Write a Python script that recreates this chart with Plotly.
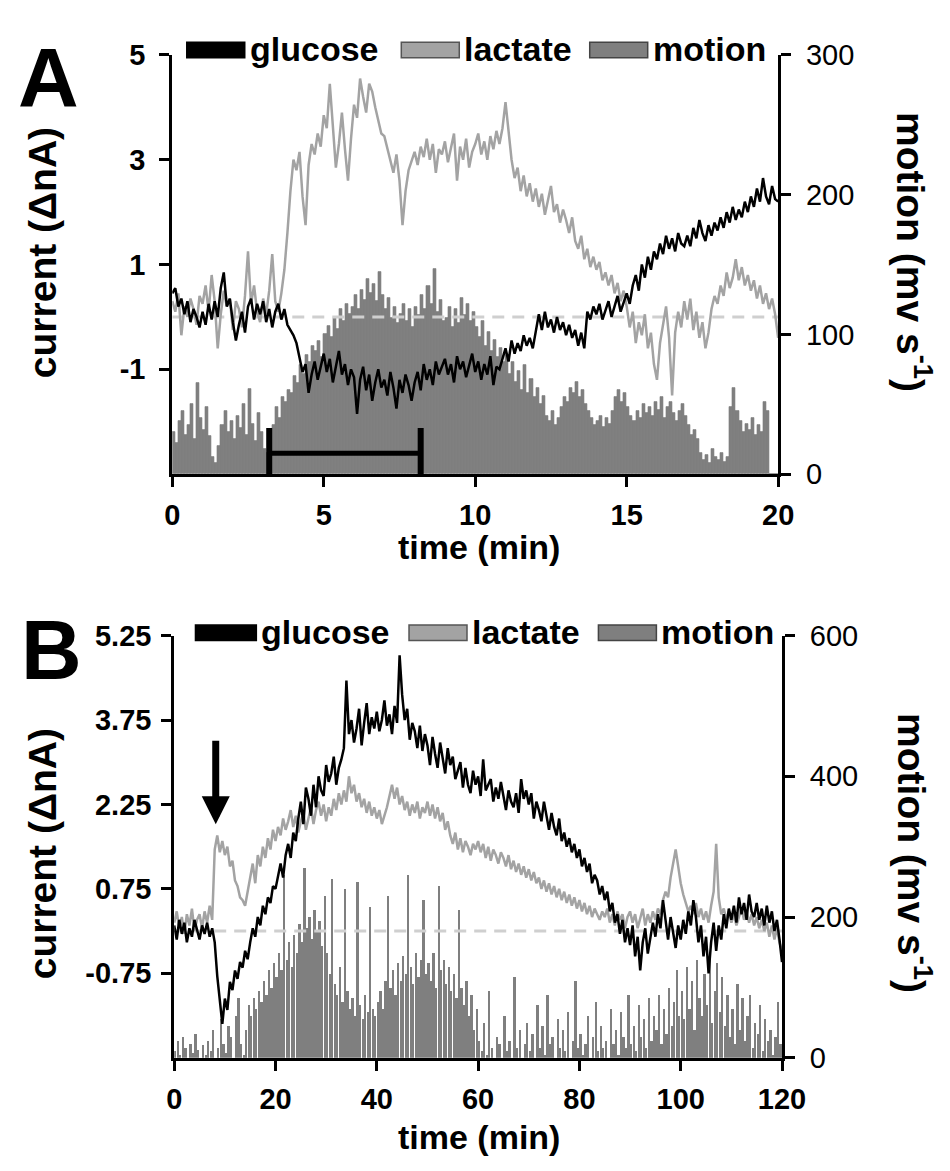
import numpy as np
import plotly.graph_objects as go

W, H = 950, 1171
FONT = "Liberation Sans, Arial, sans-serif"
BLACK = "#000000"
LACTATE_C = "#a3a3a3"
MOTION_C = "#7f7f7f"
BASE_C = "#cfcfcf"

# ---------------- Panel A: 20 min recording, one sample every 0.1 min ----------------
STEP_A = 0.1
glucose_a = [
    0.45, 0.55, 0.2, 0.35, 0.05, 0.3, -0.1, 0.15, 0.0, -0.2,
    0.1, -0.15, 0.25, -0.05, 0.3, 0.0, 0.55, 0.85, 0.2, 0.35,
    -0.1, -0.45, -0.15, 0.1, -0.3, 0.2, 0.35, -0.05, 0.25, 0.05,
    0.3, -0.1, 0.15, -0.2, 0.1, 0.25, -0.05, 0.15, -0.15, -0.25,
    -0.35, -0.5, -0.75, -1.05, -0.9, -1.45, -1.1, -0.85, -1.2, -0.95,
    -0.7, -1.05, -0.8, -1.25, -0.95, -0.65, -1.1, -0.9, -1.3, -1.0,
    -1.15, -1.85, -1.2, -0.95, -1.4, -1.1, -1.6, -1.25, -1.0, -1.35,
    -1.2, -1.5, -1.05, -1.35, -1.75, -1.2, -1.45, -1.1, -1.3, -1.6,
    -1.25, -1.05, -1.4, -0.9, -1.2, -1.0, -1.3, -0.85, -1.1, -0.95,
    -0.8, -1.1, -0.9, -1.25, -0.75, -1.0, -0.85, -1.15, -0.95, -0.7,
    -1.05, -0.85, -1.2, -0.9, -1.1, -0.75, -1.3, -0.95, -1.0, -0.8,
    -0.6, -0.85, -0.45, -0.7, -0.5, -0.65, -0.35, -0.55, -0.4, -0.6,
    -0.3, 0.05, -0.25, 0.1, -0.2, -0.05, -0.3, 0.0, -0.25, -0.1,
    -0.35, -0.15, -0.4, -0.25, -0.55, -0.3, -0.6, 0.1, -0.05, 0.2,
    0.05, 0.25, -0.05, 0.15, 0.3, 0.0, 0.2, 0.4, 0.1, 0.3,
    0.45, 0.25, 0.6, 0.8, 0.5, 1.0, 0.75, 1.15, 0.9, 1.25,
    1.1, 1.4, 1.2, 1.55, 1.3, 1.5, 1.25, 1.6, 1.4, 1.35,
    1.55, 1.35, 1.7, 1.5, 1.85, 1.6, 1.45, 1.75, 1.55, 1.8,
    1.65, 1.9, 1.7, 2.0, 1.8, 2.1, 1.85, 2.05, 1.9, 2.2,
    2.0, 2.3, 2.1, 2.45, 2.2, 2.65, 2.3, 2.15, 2.5, 2.25,
    2.2,
]
lactate_a = [
    0.3, 0.1, 0.45, -0.35, 0.2, 0.0, 0.35, 0.15, -0.15, 0.4,
    0.25, 0.6, 0.1, 0.8, 0.3, -0.6, 0.05, 0.5, 0.2, 0.35,
    -0.25, 0.3, 0.15, -0.2, 0.4, 1.25, 0.25, 0.6, 0.1, -0.1,
    0.35, 0.05, 0.5, 1.2, 0.3, 0.1, 0.45, 0.9, 1.6, 2.4,
    3.0, 2.8, 3.15, 2.3, 1.75, 2.9, 3.3, 3.1, 3.5, 3.25,
    3.85, 3.6, 4.45, 3.7, 2.85, 3.3, 3.9, 3.2, 2.6, 3.4,
    4.05, 3.8, 4.55, 4.2, 3.9, 4.45, 4.3, 4.0, 3.75, 3.5,
    3.45, 3.2, 3.0, 2.75, 3.1, 2.6, 1.75, 2.4, 2.8, 3.0,
    3.15, 2.9, 3.25, 3.05, 3.4, 3.0, 3.3, 2.75, 3.2, 3.1,
    3.35, 2.95, 3.2, 3.5, 2.6, 3.25, 3.0, 3.4, 2.85, 3.15,
    3.3, 3.5, 3.1, 3.35, 3.0, 3.45, 3.2, 3.55, 3.3, 3.6,
    4.1, 3.5, 3.0, 2.65, 2.85, 2.4, 2.7, 2.3, 2.55, 2.2,
    2.45, 2.1, 2.35, 1.95, 2.2, 2.5, 2.0, 2.15, 1.8, 2.05,
    1.85, 1.6, 1.9, 1.45, 1.3, 1.55, 1.1, 1.3, 0.95, 1.15,
    0.9, 1.05, 0.7, 0.85, 0.6, 0.8, 0.45, 0.65, 0.3, 0.5,
    0.2, -0.2, 0.1, -0.5, -0.1, -0.35, 0.05, -0.6, -0.3, -0.9,
    -1.2, -0.5, -0.15, 0.2, -0.4, -1.5, -0.3, 0.1, -0.2, 0.3,
    -0.05, 0.35, -0.25, 0.1, -0.4, -0.1, -0.6, -0.3, 0.15, 0.4,
    0.25, 0.6, 0.4, 0.85, 0.55, 0.75, 1.1, 0.7, 0.95, 0.6,
    0.8, 0.5, 0.7, 0.35, 0.6, 0.25, 0.45, 0.15, 0.35, 0.05,
    -0.4,
]
motion_a = [
    30, 22, 38, 45, 28, 35, 50, 25, 65, 40,
    32, 48, 27, 12, 8, 20, 35, 45, 30, 38,
    25, 42, 33, 50, 28, 61, 36, 24, 44, 30,
    18, 15, 22, 35, 48, 40, 55, 52, 60, 58,
    70, 65, 78, 72, 85, 80, 92, 88, 95, 84,
    100, 106, 98, 112, 104, 118, 110, 122, 115, 120,
    128, 118, 132, 125, 140, 130, 136, 124, 145, 128,
    118, 126, 112, 120, 108, 115, 122, 110, 118, 105,
    120, 114, 128, 118, 135, 122, 147, 116, 125, 110,
    112, 120, 105, 118, 108, 126, 114, 122, 110, 116,
    105, 98, 110, 92, 102, 88, 96, 84, 90, 80,
    85, 72, 80, 66, 74, 60, 78, 58, 68, 55,
    62, 50, 56, 42, 38, 45, 35, 40, 48, 55,
    52, 62, 58, 66, 55, 60, 50, 45, 40, 35,
    38, 42, 34, 40, 36, 45, 55, 60, 52, 58,
    48, 42, 38, 45, 40, 50, 44, 48, 42, 52,
    46, 55, 40, 48, 52, 44, 38, 45, 50, 42,
    35, 28, 32, 25, 15, 10, 14, 8, 18, 12,
    10, 15, 9, 12, 48, 62, 45, 38, 30, 36,
    32, 40, 28, 35, 30, 52, 45, 0, 0, 0,
]
time_a = np.round(np.arange(len(glucose_a)) * STEP_A, 3)
motion_time_a = np.round(np.arange(len(motion_a)) * STEP_A + STEP_A / 2, 3)
stim_period_a = [3.2, 8.2]      # min, horizontal bar
stim_level_a = -2.6             # nA axis position of the bar

# ---------------- Panel B: 120 min recording, one sample every 0.5 min ----------------
STEP_B = 0.5
glucose_b = [
    0.1, -0.15, 0.2, -0.05, 0.15, -0.2, 0.05, -0.1, 0.2, 0.0,
    -0.15, 0.1, -0.05, 0.15, -0.1, 0.05, -0.2, -0.8, -1.3, -1.65,
    -1.2, -1.4, -0.9, -1.05, -0.7, -0.85, -0.55, -0.65, -0.35, -0.5,
    -0.2, 0.05, -0.1, 0.25, 0.1, 0.45, 0.3, 0.6, 0.5, 0.8,
    0.75, 1.0, 1.2, 0.95, 1.35, 1.55, 1.3, 1.75, 1.6, 2.0,
    2.3, 1.9, 2.55, 2.35, 2.05, 2.6, 2.2, 2.75, 2.5, 2.4,
    2.95, 2.65, 2.8, 3.1, 2.6, 2.9, 3.05, 3.25, 4.45, 3.5,
    3.75, 3.35, 3.6, 3.95, 3.3, 3.7, 4.05, 3.5, 3.8, 3.6,
    3.9, 3.55, 3.75, 4.1, 3.65, 3.85, 3.5, 4.0, 3.7, 4.9,
    4.2, 3.75, 3.95, 3.4, 3.7, 3.55, 3.25, 3.65, 3.2, 3.5,
    3.3, 2.95, 3.45, 3.15, 2.9, 3.35, 3.05, 2.8, 3.25, 2.95,
    3.1, 2.7, 2.85, 3.0, 2.55, 2.9, 2.6, 2.45, 2.85, 2.6,
    2.75, 2.4, 3.05, 2.5, 2.6, 2.7, 2.3, 2.55, 2.35, 2.65,
    2.4, 2.15, 2.5, 2.3, 2.2, 2.45, 2.1, 2.7, 2.35, 2.5,
    2.25, 2.45, 2.0, 2.3, 2.15, 1.95, 2.3, 2.05, 1.8, 2.1,
    1.85, 1.7, 2.0, 1.6, 1.75, 1.5, 1.65, 1.4, 1.55, 1.3,
    1.45, 1.15, 1.3, 1.05, 1.2, 0.85, 1.0, 0.9, 0.65, 0.8,
    0.55, 0.7, 0.35, 0.5, 0.15, 0.3, -0.05, 0.2, -0.2, 0.05,
    -0.25, 0.1, -0.45, -0.1, -0.7, -0.2, 0.05, -0.4, -0.15, 0.15,
    -0.1, 0.3, 0.05, 0.55, 0.2, -0.15, 0.25, 0.0, -0.3, 0.1,
    -0.15, 0.2, -0.05, 0.35, 0.1, 0.55, 0.25, -0.2, 0.1, -0.45,
    -0.1, -0.75, -0.2, 0.15, -0.35, 0.1, -0.15, 0.3, 0.05, 0.4,
    0.2, 0.45, 0.15, 0.6, 0.3, 0.5, 0.2, 0.65, 0.35, 0.25,
    0.5, 0.2, 0.4, 0.1, 0.45, 0.15, 0.35, 0.0, 0.2, -0.15,
    -0.55,
]
lactate_b = [
    0.15, 0.35, 0.05, 0.25, -0.05, 0.3, 0.1, 0.4, 0.0, 0.2,
    0.3, 0.05, 0.35, 0.15, 0.45, 0.2, 1.45, 1.7, 1.4, 1.6,
    1.35, 1.5, 1.15, 1.25, 0.9, 0.8, 0.6, 0.55, 0.45, 0.7,
    0.95, 1.2, 0.85, 1.35, 1.15, 1.5, 1.3, 1.65, 1.45, 1.8,
    1.6, 1.85, 1.7, 2.0, 1.8, 1.95, 2.15, 1.85, 2.05, 1.75,
    1.95, 2.1, 1.8, 2.0, 2.2, 1.9, 2.15, 2.3, 2.05, 2.25,
    1.95, 2.2, 2.05, 2.35, 2.15, 2.45, 2.25, 2.5, 2.3, 2.75,
    2.45, 2.6, 2.3, 2.45, 2.2, 2.35, 2.1, 2.3, 2.05, 2.2,
    2.0, 2.15, 1.9, 2.05, 2.2, 2.4, 2.6, 2.35, 2.55, 2.25,
    2.4, 2.15, 2.3, 2.05, 2.25, 2.1, 2.3, 2.0, 2.2, 2.1,
    2.3, 2.05, 2.25, 2.0, 2.2, 1.95, 2.1, 1.8, 1.95, 1.7,
    1.55, 1.75, 1.45, 1.65, 1.4, 1.6, 1.5, 1.35, 1.55, 1.45,
    1.6, 1.4, 1.55, 1.3, 1.5, 1.25, 1.45, 1.35, 1.2, 1.4,
    1.3, 1.15, 1.35, 1.1, 1.25, 1.05, 1.2, 1.0, 1.15, 0.95,
    1.1, 0.9, 1.05, 0.85, 0.95, 0.75, 0.9, 0.7, 0.85, 0.65,
    0.8, 0.6, 0.75, 0.55, 0.7, 0.5, 0.65, 0.45, 0.6, 0.4,
    0.55, 0.35, 0.5, 0.3, 0.45, 0.25, 0.4, 0.3, 0.2, 0.35,
    0.25, 0.4, 0.15, 0.3, 0.1, 0.35, 0.2, 0.3, 0.05, 0.25,
    0.35, 0.15, 0.3, 0.05, 0.25, 0.4, 0.1, 0.3, 0.15, 0.35,
    0.2, 0.4, 0.3, 0.55, 0.7, 0.6, 0.95, 1.2, 1.45, 1.15,
    0.85, 0.65, 0.5, 0.35, 0.45, 0.3, 0.5, 0.25, 0.4, 0.2,
    0.35, 0.15, 0.45, 0.7, 1.55, 0.6, 0.3, 0.4, 0.2, 0.35,
    0.15, 0.3, 0.1, 0.25, 0.4, 0.2, 0.35, 0.15, 0.3, 0.1,
    0.25, 0.05, 0.2, 0.0, 0.15, -0.1, 0.1, -0.15, 0.05, -0.2,
    -0.35,
]
motion_b = [
    10, 25, 5, 30, 15, 0, 20, 8, 35, 12,
    0, 18, 5, 25, 10, 40, 0, 15, 55, 20,
    8, 45, 30, 0, 60, 85, 20, 5, 40, 75,
    60, 85, 70, 95, 80, 110, 90, 125, 100, 135,
    115, 150, 125, 260, 140, 165, 130, 175, 150, 190,
    165, 270, 185, 200, 170, 210, 180, 195, 160, 230,
    150, 120, 255, 105, 90, 130, 80, 240, 95, 70,
    85, 60, 250, 75, 55, 90, 65, 215, 70, 60,
    80, 95, 70, 110, 230, 100, 125, 90, 135, 110,
    145, 120, 260, 130, 105, 150, 115, 140, 225, 120,
    135, 110, 150, 100, 245, 125, 140, 105, 130, 95,
    120, 85, 210, 100, 75, 110, 60, 90, 40, 70,
    25, 10, 50, 5, 95, 15, 0, 30, 20, 0,
    60, 10, 25, 0, 115, 15, 40, 0, 20, 50,
    10, 35, 0, 75, 15, 45, 5, 90, 20, 30,
    0, 55, 15, 40, 10, 65, 0, 25, 110, 15,
    35, 5, 20, 60, 0, 30, 80, 10, 45, 15,
    25, 0, 70, 20, 40, 5, 65, 30, 15, 90,
    20, 45, 10, 75, 30, 55, 15, 85, 25, 60,
    40, 90, 20, 70, 35, 100, 45, 80, 125, 60,
    95, 55, 130, 70, 110, 40, 140, 85, 60, 120,
    75, 150, 50, 95, 135, 65, 115, 45, 90, 30,
    70, 20, 105, 40, 85, 25, 60, 90, 15, 50,
    35, 75, 10, 55, 25, 40, 5, 30, 80, 20,
]
time_b = np.round(np.arange(len(glucose_b)) * STEP_B, 3)
motion_time_b = np.round(np.arange(len(motion_b)) * STEP_B + STEP_B / 2, 3)
event_time_b = 8.2      # min, arrow marker
event_level_b = 1.9     # nA, arrow tip

baseline = 0.0

# axis ranges and ticks
x_range_a, x_ticks_a = [0, 20], [0, 5, 10, 15, 20]
cur_range_a, cur_ticks_a = [-3, 5], [-1, 1, 3, 5]
cur_text_a = ["-1", "1", "3", "5"]
mot_range_a, mot_ticks_a = [0, 300], [0, 100, 200, 300]

x_range_b, x_ticks_b = [0, 120], [0, 20, 40, 60, 80, 100, 120]
cur_range_b, cur_ticks_b = [-2.25, 5.25], [-0.75, 0.75, 2.25, 3.75, 5.25]
cur_text_b = ["-0.75", "0.75", "2.25", "3.75", "5.25"]
mot_range_b, mot_ticks_b = [0, 600], [0, 200, 400, 600]

series_names = ["glucose", "lactate", "motion"]


def fx(p):
    return p / W


def fy(p):
    return 1 - p / H


fig = go.Figure()

# ---- traces, panel A (motion on the base axis so the currents sit on top) ----
fig.add_trace(go.Bar(x=motion_time_a, y=motion_a, width=STEP_A, xaxis="x", yaxis="y",
                     marker=dict(color=MOTION_C, line=dict(width=0.6, color=MOTION_C)),
                     showlegend=False))
fig.add_trace(go.Scatter(x=[time_a[0], time_a[-1]], y=[baseline, baseline], mode="lines",
                         xaxis="x", yaxis="y2", line=dict(color=BASE_C, width=3, dash="12px,8px"),
                         showlegend=False))
fig.add_trace(go.Scatter(x=time_a, y=lactate_a, mode="lines", xaxis="x", yaxis="y2",
                         line=dict(color=LACTATE_C, width=2.5), showlegend=False))
fig.add_trace(go.Scatter(x=time_a, y=glucose_a, mode="lines", xaxis="x", yaxis="y2",
                         line=dict(color=BLACK, width=2.5), showlegend=False))
fig.add_trace(go.Scatter(x=stim_period_a, y=[stim_level_a] * 2, mode="lines+markers",
                         xaxis="x", yaxis="y2", line=dict(color=BLACK, width=5),
                         marker=dict(symbol="line-ns", size=36, line=dict(width=6, color=BLACK)),
                         showlegend=False))

# ---- traces, panel B ----
fig.add_trace(go.Bar(x=motion_time_b, y=motion_b, width=STEP_B * 0.9, xaxis="x2", yaxis="y3",
                     marker=dict(color=MOTION_C, line=dict(width=0)), showlegend=False))
fig.add_trace(go.Scatter(x=[time_b[0], time_b[-1]], y=[baseline, baseline], mode="lines",
                         xaxis="x2", yaxis="y4", line=dict(color=BASE_C, width=3, dash="12px,8px"),
                         showlegend=False))
fig.add_trace(go.Scatter(x=time_b, y=lactate_b, mode="lines", xaxis="x2", yaxis="y4",
                         line=dict(color=LACTATE_C, width=2.5), showlegend=False))
fig.add_trace(go.Scatter(x=time_b, y=glucose_b, mode="lines", xaxis="x2", yaxis="y4",
                         line=dict(color=BLACK, width=2.5), showlegend=False))

tick_bold = dict(family=FONT, size=29, color=BLACK, weight="bold")
tick_reg = dict(family=FONT, size=29, color=BLACK)
axis_common = dict(showline=True, linewidth=3, linecolor=BLACK, ticks="outside", ticklen=10,
                   tickwidth=3, tickcolor=BLACK, showgrid=False, zeroline=False, fixedrange=True)

dom_x_a = [fx(170), fx(797)]
dom_y_a = [fy(471), fy(40)]
dom_x_b = [fx(172), fx(801)]
dom_y_b = [fy(1071), fy(637)]

fig.update_layout(
    width=W, height=H, margin=dict(l=0, r=0, t=0, b=0), autosize=False,
    paper_bgcolor="white", plot_bgcolor="white", showlegend=False, bargap=0,
    xaxis=dict(domain=dom_x_a, anchor="y", range=x_range_a, tickvals=x_ticks_a,
               tickfont=tick_bold, ticklabelstandoff=3, **axis_common),
    yaxis=dict(domain=dom_y_a, anchor="x", side="right", range=mot_range_a, tickvals=mot_ticks_a,
               tickfont=tick_reg, ticklabelstandoff=9, **axis_common),
    yaxis2=dict(overlaying="y", anchor="x", side="left", range=cur_range_a, tickvals=cur_ticks_a,
                ticktext=cur_text_a, tickfont=tick_bold, ticklabelstandoff=8, **axis_common),
    xaxis2=dict(domain=dom_x_b, anchor="y3", range=x_range_b, tickvals=x_ticks_b,
                tickfont=tick_bold, ticklabelstandoff=3, **axis_common),
    yaxis3=dict(domain=dom_y_b, anchor="x2", side="right", range=mot_range_b, tickvals=mot_ticks_b,
                tickfont=tick_reg, ticklabelstandoff=9, **axis_common),
    yaxis4=dict(overlaying="y3", anchor="x2", side="left", range=cur_range_b, tickvals=cur_ticks_b,
                ticktext=cur_text_b, tickfont=tick_bold, ticklabelstandoff=4, **axis_common),
)

ann = []
shapes = []


def text(x, y, s, size, angle=0, xanchor="center", bold=True):
    f = dict(family=FONT, size=size, color=BLACK)
    if bold:
        f["weight"] = "bold"
    ann.append(dict(x=fx(x), y=fy(y), xref="paper", yref="paper", text=s, showarrow=False,
                    textangle=angle, xanchor=xanchor, yanchor="middle", font=f))


# panel letters
text(42, 64, "A", 84)
text(45, 652, "B", 84)

# axis titles
for ty_time, ty_mid in [(546, 243), (1153, 861)]:
    text(487, ty_time, "time (min)", 34)
    text(36, ty_mid, "current (ΔnA)", 39, angle=-90)
    text(938, ty_mid, "motion (mv s<sup>-1</sup>)", 39, angle=90)

# legends drawn as swatch + label rows
legend_styles = {
    "glucose": dict(fill=BLACK, line=BLACK),
    "lactate": dict(fill=LACTATE_C, line="#555555"),
    "motion": dict(fill=MOTION_C, line="#444444"),
}
legend_rows = [
    (35, [(185, 245), (407, 467), (602, 662)]),
    (634, [(194, 257), (415, 475), (611, 671)]),
]
for yc, boxes in legend_rows:
    for name, (x0, x1) in zip(series_names, boxes):
        st = legend_styles[name]
        shapes.append(dict(type="rect", xref="paper", yref="paper",
                           x0=fx(x0), x1=fx(x1), y0=fy(yc + 8), y1=fy(yc - 8),
                           fillcolor=st["fill"], line=dict(color=st["line"], width=1.5)))
        text(x1 + 3, yc - 1, name, 34, xanchor="left")

# event arrow in panel B
ann.append(dict(x=event_time_b, y=event_level_b, xref="x2", yref="y4", ax=0, ay=-85,
                showarrow=True, arrowhead=2, arrowsize=0.8, arrowwidth=7, arrowcolor=BLACK,
                text=""))

fig.update_layout(annotations=ann, shapes=shapes)
fig.write_html("out.html",
               post_script="document.body.style.margin='0';document.body.style.overflow='hidden';")
